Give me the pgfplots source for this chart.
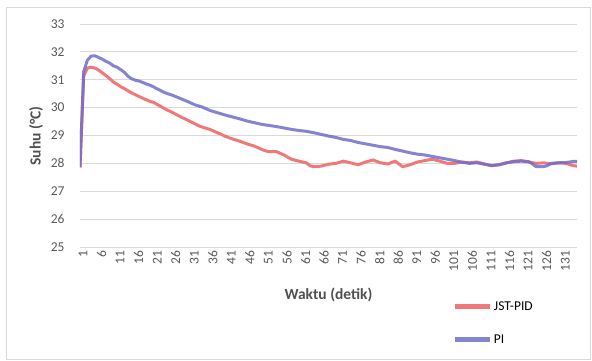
\documentclass[border=0pt]{standalone}
\usepackage{pgfplots}
\pgfplotsset{compat=1.18}
\usepackage{fontspec}
\setmainfont{Carlito}
\definecolor{jst}{RGB}{240,120,120}
\definecolor{pic}{RGB}{112,110,200}
\definecolor{gridc}{RGB}{217,217,217}
\definecolor{tickc}{RGB}{89,89,89}
\begin{document}
\begin{tikzpicture}
\path (-80pt,-114pt) rectangle (512pt,247pt);
\draw[gridc, line width=0.8pt] (-74pt,-112pt) rectangle (510pt,240pt);
\begin{axis}[
  at={(0pt,0pt)}, anchor=south west,
  scale only axis, width=497pt, height=223pt,
  xmin=1, xmax=135, ymin=25, ymax=33,
  ytick={25,...,33}, xtick={1,6,...,131},
  ymajorgrids, grid style={draw=gridc, line width=0.8pt},
  axis line style={draw=none},
  major tick length=0pt,
  /pgf/number format/assume math mode=true,
  ticklabel style={font=\fontsize{13.5}{15}\selectfont, text=tickc},
  yticklabel style={xshift=-12pt},
  xticklabel style={rotate=90, anchor=east, yshift=-3pt},
  xlabel={Waktu (detik)}, ylabel={Suhu (°C)},
  label style={font=\fontsize{15.5}{17}\selectfont\bfseries, text=tickc!90!black},
  xlabel style={at={(0.5,-0.215)}, anchor=center},
  ylabel style={at={(-0.0885,0.498)}, anchor=center},
  legend style={at={(0.75,-0.236)}, anchor=north west, draw=none, fill=none,
    font=\fontsize{13.5}{15}\selectfont, row sep=20pt, inner sep=0pt,
    nodes={inner sep=1.5pt}},
  legend cell align=left,
  legend image code/.code={\draw[#1, line width=4.5pt] (0pt,0pt) -- (35pt,0pt);},
]
\addplot[jst, line width=3pt, line join=round] coordinates {
(1,27.86)(2,31.15)(3,31.42)(4,31.45)(5,31.42)(6,31.35)(7,31.25)(8,31.15)(9,31.04)(10,30.92)(11,30.84)(12,30.75)(13,30.68)(14,30.6)(15,30.52)(16,30.46)(18,30.33)(20,30.22)(21,30.18)(22,30.1)(24,29.95)(26,29.82)(27,29.75)(28,29.68)(30,29.55)(32,29.42)(33,29.35)(34,29.3)(36,29.22)(38,29.1)(39,29.05)(40,28.98)(42,28.88)(44,28.8)(45,28.75)(46,28.7)(48,28.62)(50,28.5)(51,28.45)(52,28.42)(54,28.42)(56,28.3)(58,28.15)(60,28.08)(62,28.02)(63,27.92)(64,27.88)(66,27.9)(68,27.97)(70,28.0)(72,28.08)(74,28.02)(76,27.95)(78,28.05)(80,28.12)(82,28.02)(84,27.98)(86,28.08)(88,27.88)(90,27.95)(92,28.05)(94,28.1)(96,28.15)(98,28.08)(100,28.0)(102,28.0)(104,28.05)(106,28.02)(108,28.05)(110,27.98)(112,27.92)(114,27.95)(116,28.02)(118,28.08)(120,28.1)(122,28.05)(124,28.0)(126,28.02)(128,27.98)(130,28.02)(132,28.0)(134,27.92)(135,27.9)
};
\addlegendentry{JST-PID}
\addplot[pic, line width=3pt, line join=round, opacity=0.85] coordinates {
(1,27.86)(2,31.3)(3,31.7)(4,31.85)(5,31.86)(6,31.8)(7,31.74)(8,31.66)(9,31.6)(10,31.5)(11,31.45)(12,31.36)(13,31.26)(14,31.12)(15,31.03)(16,30.98)(17,30.95)(18,30.9)(19,30.84)(20,30.8)(22,30.66)(24,30.53)(26,30.44)(28,30.33)(30,30.22)(32,30.1)(34,30.02)(36,29.9)(38,29.82)(40,29.74)(42,29.67)(44,29.6)(46,29.52)(48,29.46)(50,29.4)(52,29.36)(54,29.32)(56,29.27)(58,29.22)(60,29.18)(62,29.15)(64,29.1)(66,29.04)(68,28.98)(70,28.93)(72,28.86)(74,28.82)(76,28.75)(78,28.7)(80,28.65)(82,28.6)(84,28.57)(86,28.5)(88,28.44)(90,28.38)(92,28.33)(94,28.3)(96,28.25)(98,28.2)(100,28.15)(102,28.1)(104,28.04)(106,28.0)(108,28.02)(110,27.97)(112,27.92)(114,27.95)(116,28.02)(118,28.06)(120,28.08)(122,28.06)(123,27.98)(124,27.88)(126,27.88)(127,27.92)(128,28.0)(130,28.02)(132,28.03)(134,28.07)(135,28.07)
};
\addlegendentry{PI}
\end{axis}
\end{tikzpicture}
\end{document}
